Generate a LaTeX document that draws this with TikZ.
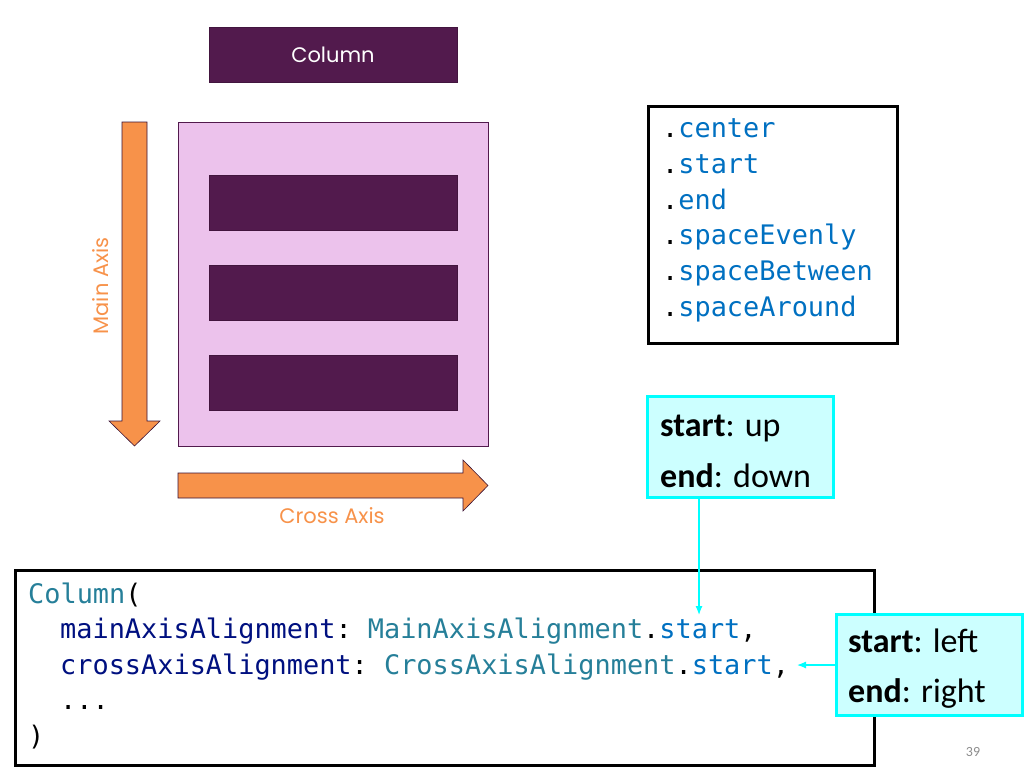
\documentclass[tikz,border=0pt]{standalone}
\usepackage{fontspec}
\setmainfont{Carlito}
\setmonofont{DejaVu Sans Mono}
\newfontfamily\roundfont{Poppins}
\usetikzlibrary{arrows.meta}
\definecolor{plum}{HTML}{521A4D}
\definecolor{lilac}{HTML}{ECC2EC}
\definecolor{axisorange}{HTML}{F7924A}
\definecolor{notecyan}{HTML}{00FFFF}
\definecolor{notefill}{HTML}{CCFFFF}
\definecolor{typeteal}{HTML}{267F99}
\definecolor{paramnavy}{HTML}{001080}
\definecolor{enumblue}{HTML}{0070C1}

\begin{document}
\begin{tikzpicture}[x=1pt, y=-1pt,
		codeline/.style={anchor=base west, inner sep=0pt, font=\ttfamily\fontsize{26.9}{30}\selectfont},
		noteline/.style={anchor=base west, inner sep=0pt, font=\fontsize{34}{40}\selectfont},
		notebox/.style={draw=notecyan, fill=notefill, line width=3pt, minimum width=186pt, minimum height=101pt, inner sep=0pt},
		axislabel/.style={text=axisorange, font=\roundfont\fontsize{21}{24}\selectfont},
		bar/.style={fill=plum, draw=plum!80!black, line width=0.4pt},
		hint/.style={draw=notecyan, line width=1.2pt, -{Latex[length=9pt, width=7pt]}}]
			%%%%% START %%%%%
			\useasboundingbox (0, 0) rectangle (1026, 776);
			
			% column picture
			\node[bar, minimum width=248pt, minimum height=55pt, text=white, font=\roundfont\fontsize{21}{24}\selectfont] (title) at (333, 54.5) {Column};
			\draw[fill=lilac, draw=plum, line width=0.6pt] (178, 122) rectangle (488, 446);
			\draw[bar] (209, 175) rectangle (457, 230);
			\draw[bar] (209, 265) rectangle (457, 320);
			\draw[bar] (209, 355) rectangle (457, 410);
			
			\draw[fill=axisorange, draw=plum!70!black, line width=0.6pt] (122, 122) -- (147, 122) -- (147, 421) -- (160, 421) -- (134.5, 446) -- (109, 421) -- (122, 421) -- cycle;
			\draw[fill=axisorange, draw=plum!70!black, line width=0.6pt] (178, 473) -- (463, 473) -- (463, 460) -- (488, 485.5) -- (463, 511) -- (463, 498) -- (178, 498) -- cycle;
			\node[axislabel, rotate=90] (mainlabel) at (101, 286) {Main Axis};
			\node[axislabel] (crosslabel) at (332, 516) {Cross Axis};
			
			% alignment values
			\node[draw, line width=3pt, minimum width=249pt, minimum height=237pt] (valuebox) at (772.5, 224.5) {};
			\foreach \val [count=\i] in {center, start, end, spaceEvenly, spaceBetween, spaceAround}
				\node[codeline] (value\i) at (662, {137.5+35.8*(\i-1)}) {.\textcolor{enumblue}{\val}};
			
			% code
			\node[draw, line width=3pt, minimum width=859pt, minimum height=195pt] (codebox) at (445, 667.5) {};
			\node[codeline] (code1) at (28, 603) {\textcolor{typeteal}{Column}(};
			\node[codeline] (code2) at (60, 638.5) {\textcolor{paramnavy}{mainAxisAlignment}: \textcolor{typeteal}{MainAxisAlignment}.\textcolor{enumblue}{start},};
			\node[codeline] (code3) at (60, 674) {\textcolor{paramnavy}{crossAxisAlignment}: \textcolor{typeteal}{CrossAxisAlignment}.\textcolor{enumblue}{start},};
			\node[codeline] (code4) at (60, 709.5) {...};
			\node[codeline] (code5) at (28, 745) {)};
			
			% notes
			\node[notebox] (mainnote) at (740.5, 447) {};
			\node[noteline] (mainstart) at (660, 436) {\textbf{start}: up};
			\node[noteline] (mainend) at (660, 487) {\textbf{end}: down};
			
			\node[notebox] (crossnote) at (929.5, 665) {};
			\node[noteline] (crossstart) at (848, 652) {\textbf{start}: left};
			\node[noteline] (crossend) at (848, 702) {\textbf{end}: right};
			
			\coordinate (maintip) at (699, 615);
			\coordinate (crosstip) at (797, 665);
			\draw[hint] (mainnote.south -| maintip) -- (maintip);
			\draw[hint] (crossnote.west) -- (crosstip);
			
			\node[text=black!45, font=\fontsize{14}{16}\selectfont] (pagenum) at (973, 752) {39};
			%%%%% END %%%%%
		\end{tikzpicture}
\end{document}
